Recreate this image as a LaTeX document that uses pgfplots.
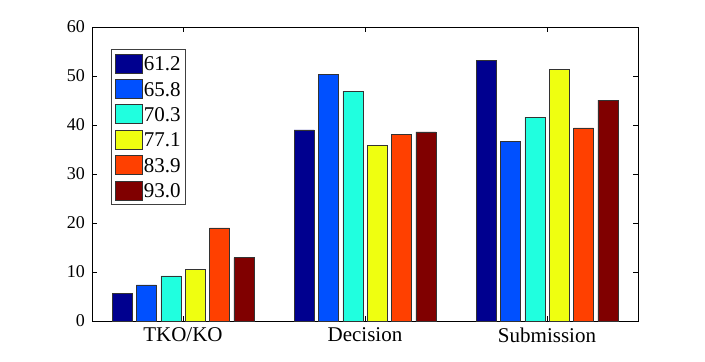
\documentclass[border=0pt]{standalone}
\usepackage{fontspec}
\setmainfont{Liberation Serif}
\usepackage{pgfplots}
\pgfplotsset{compat=1.18}
\definecolor{c1}{RGB}{0,0,143}
\definecolor{c2}{RGB}{0,80,255}
\definecolor{c3}{RGB}{32,255,223}
\definecolor{c4}{RGB}{239,255,16}
\definecolor{c5}{RGB}{255,64,0}
\definecolor{c6}{RGB}{128,0,0}
\begin{document}
\begin{tikzpicture}
\useasboundingbox (-46pt,-20pt) rectangle (306.5pt,160.5pt);
\begin{axis}[
  at={(0pt,0pt)}, anchor=south west,
  scale only axis, width=273pt, height=147pt,
  xmin=0.5, xmax=3.5, ymin=0, ymax=60,
  ybar=2.17pt, bar width=10pt,
  xtick={1,2,3}, xticklabels={TKO/KO,Decision,Submission},
  ytick={0,10,...,60},
  tick pos=both, tick align=inside, major tick length=2.5pt,
  axis line style={black, line width=0.45pt},
  tick style={black, line width=0.45pt},
  /pgf/number format/assume math mode=true,
  yticklabel style={font=\fontsize{9}{10}\selectfont},
  xticklabel style={font=\fontsize{10.5}{12}\selectfont},
  every axis plot/.append style={draw=black!80, line width=0.3pt},
  legend image code/.code={\draw[#1] (0pt,-4.75pt) rectangle (13.3pt,4.75pt);},
  legend style={at={(0.0348,0.925)}, anchor=north west,
    draw=black!75, line width=0.45pt, inner sep=2pt,
    font=\fontsize{10.5}{12}\selectfont,
    nodes={inner sep=0.6pt, text height=7.3pt, text depth=0pt},
    row sep=2.9pt},
  legend cell align=left,
]
\addplot[fill=c1] coordinates {(1,5.7) (2,39.0) (3,53.2)};
\addplot[fill=c2] coordinates {(1,7.35) (2,50.4) (3,36.6)};
\addplot[fill=c3] coordinates {(1,9.2) (2,46.9) (3,41.6)};
\addplot[fill=c4] coordinates {(1,10.6) (2,35.9) (3,51.4)};
\addplot[fill=c5] coordinates {(1,19.0) (2,38.1) (3,39.4)};
\addplot[fill=c6] coordinates {(1,12.95) (2,38.6) (3,45.1)};
\legend{61.2,65.8,70.3,77.1,83.9,93.0}
\end{axis}
\end{tikzpicture}
\end{document}
